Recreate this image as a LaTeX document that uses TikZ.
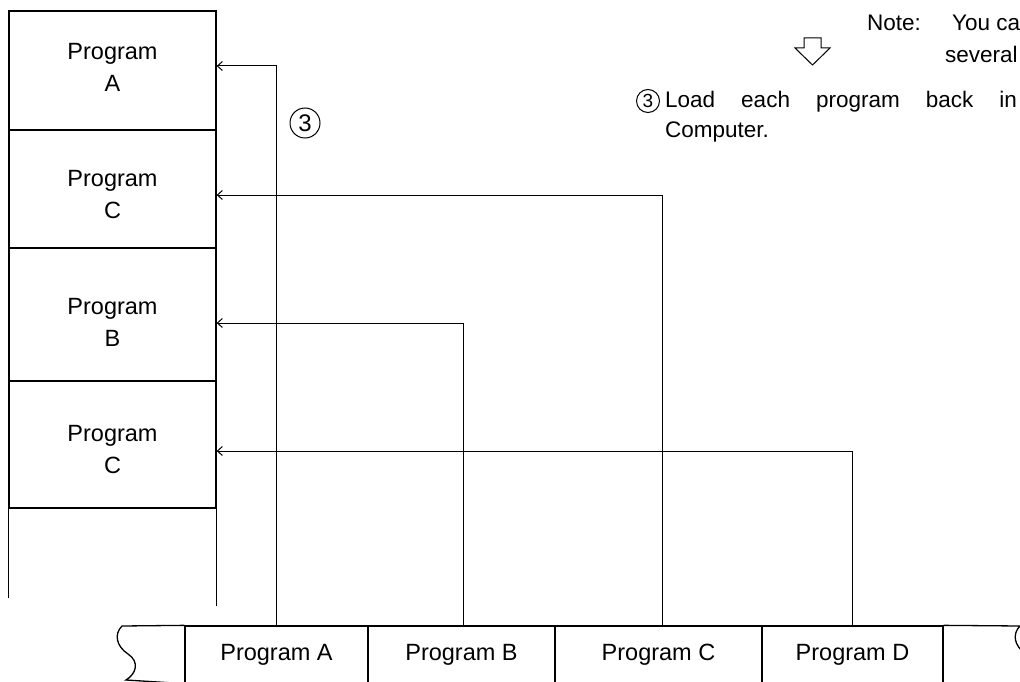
\documentclass[tikz,border=0pt]{standalone}
\usepackage{fontspec}
\setmainfont{Liberation Sans}
\usetikzlibrary{arrows.meta,positioning,calc}
\tikzset{>={Straight Barb[length=5pt,width=9pt]},
 cell/.style={draw,line width=1.3pt,minimum width=207pt,inner sep=0pt,align=center,
  text depth=0pt,font=\fontsize{23.5}{32}\selectfont},
 tapecell/.style={draw,line width=1.3pt,minimum height=57pt,inner sep=0pt,
  font=\fontsize{23.5}{28}\selectfont},
 feed/.style={line width=1pt,->},
 ring/.style={circle,draw,line width=1pt,inner sep=0pt,font=\fontsize{24}{26}\selectfont},
 note/.style={anchor=base west,inner sep=0pt,font=\fontsize{22.5}{27}\selectfont}}
\begin{document}
\begin{tikzpicture}[x=1pt,y=-1pt]
\useasboundingbox (0,0) rectangle (1020,682);
\clip (0,0) rectangle (1020,682);
% memory column
\node[cell,minimum height=119pt,text height=42pt] (memA) at (112.5,70.5) {Program\\A};
\node[cell,minimum height=118pt,text height=59pt] (memC) at (112.5,189) {Program\\C};
\node[cell,minimum height=133pt,text height=64pt] (memB) at (112.5,314.5) {Program\\B};
\node[cell,minimum height=127pt,text height=58pt] (memCC) at (112.5,444.5) {Program\\C};
\draw[line width=1.3pt] (memCC.south west) -- ++(0,89);
\draw[line width=1.3pt] (memCC.south east) -- ++(0,97);
% tape
\node[tapecell,minimum width=183pt] (tapeA) at (276.5,654.5) {Program A};
\node[tapecell,minimum width=187pt] (tapeB) at (461.5,654.5) {Program B};
\node[tapecell,minimum width=207pt] (tapeC) at (658.5,654.5) {Program C};
\node[tapecell,minimum width=181pt] (tapeD) at (852.5,654.5) {Program D};
\draw[line width=1.3pt] (tapeA.north west) -- (122,626) .. controls (114,634) and (116,646) .. (128,654)
 .. controls (140,662) and (136,674) .. (126,680) -- (tapeA.south west);
\draw[line width=1.3pt] (tapeD.north east) -- (1020,626) .. controls (1012,634) and (1014,646) .. (1026,654)
 .. controls (1038,662) and (1034,674) .. (1024,683) -- (tapeD.south east);
% loading back
\draw[feed] (tapeA.north) |- ([yshift=4.5pt]memA.east);
\draw[feed] ([xshift=4pt]tapeC.north) |- ([yshift=-6pt]memC.east);
\draw[feed] ([xshift=1.5pt]tapeB.north) |- ([yshift=-8.5pt]memB.east);
\draw[feed] (tapeD.north) |- ([yshift=-6.5pt]memCC.east);
\node[ring,minimum size=30pt] (stepmark) at (305,123) {3};
% note
\draw[line width=1pt] (804,38) -- (821,38) -- (821,48) -- (830,48) -- (812.5,65)
 -- (795,48) -- (804,48) -- cycle;
\node[note] (notehead) at (867,31) {Note:};
\node[note] (notetext) at (952,31) {You ca};
\node[note] (notemore) at (945,63) {several};
\node[ring,minimum size=23pt,font=\fontsize{19}{22}\selectfont] (stepnote) at (648,101) {3};
\node[note] (loadtext) at (665,108) {Load\hspace{26pt}each\hspace{26pt}program\hspace{26pt}back\hspace{26pt}in};
\node[note] (loadmore) at (665,138) {Computer.};
\end{tikzpicture}
\end{document}
